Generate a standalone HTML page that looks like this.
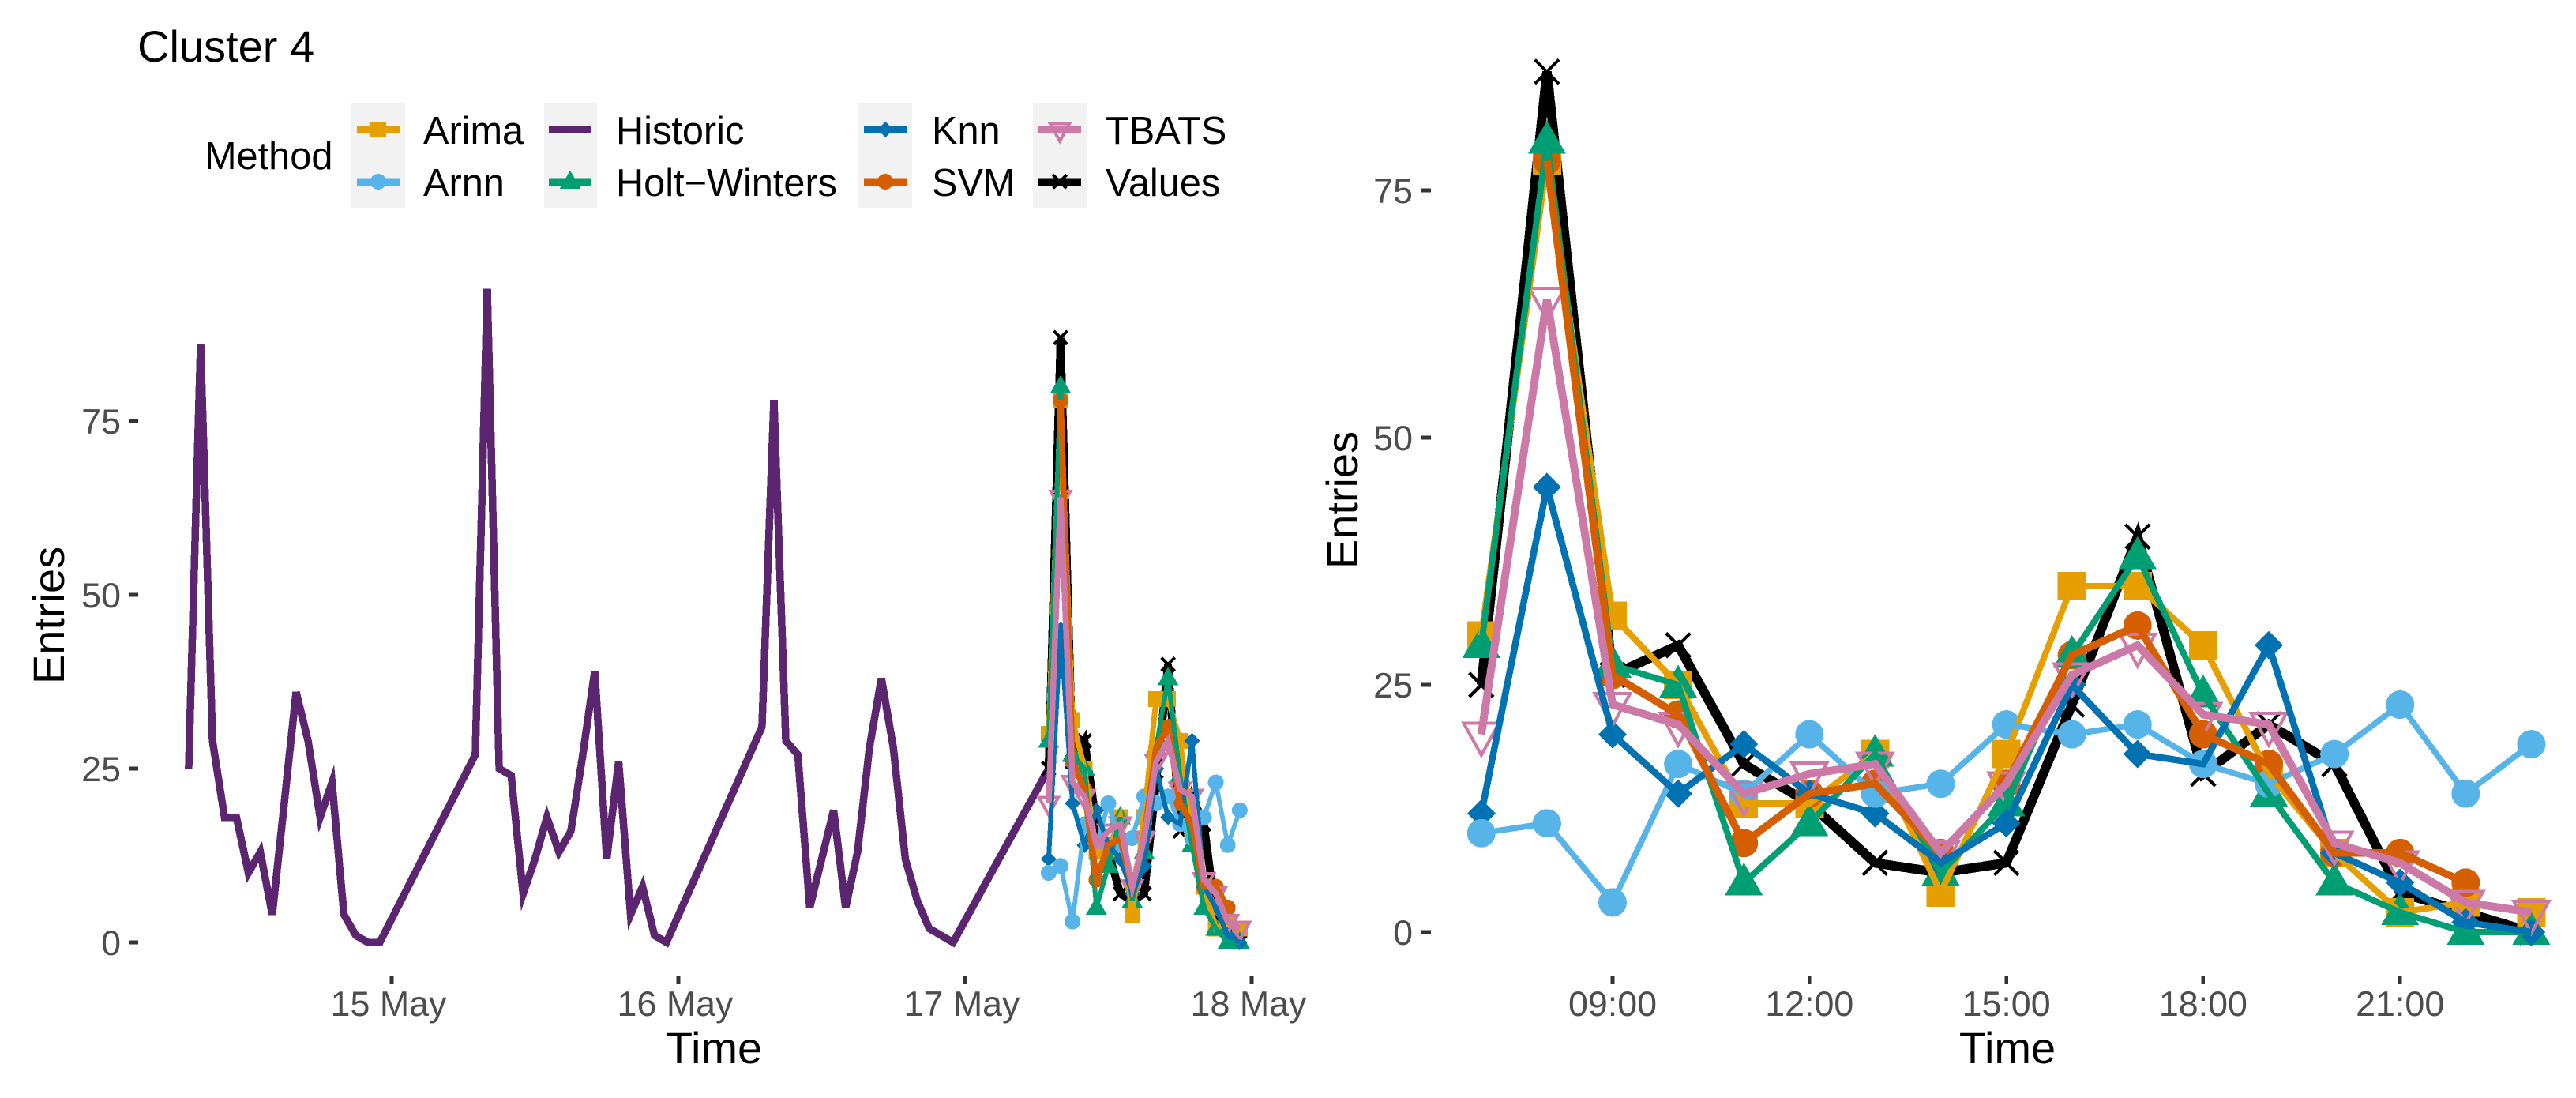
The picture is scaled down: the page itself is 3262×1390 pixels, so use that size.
<!DOCTYPE html>
<html lang="en">
<head>
<meta charset="utf-8">
<title>Cluster 4</title>
<style>
html,body{margin:0;padding:0;background:#fff;}
svg{display:block;font-family:"Liberation Sans",Arial,sans-serif;}
.axt{font-size:56px;fill:#000;}
.leg{font-size:48.7px;fill:#000;}
.tick{font-size:44.8px;fill:#4D4D4D;}
</style>
</head>
<body>
<svg id="chart" xmlns="http://www.w3.org/2000/svg" width="3262" height="1390" viewBox="0 0 3262 1390" shape-rendering="crispEdges">
  <rect x="0" y="0" width="3262" height="1390" fill="#fff"/>
  <text x="174" y="78" font-size="56">Cluster 4</text>

  <g>
    <text class="leg" x="259" y="214">Method</text>
    <rect x="445" y="131" width="68" height="132" fill="#F2F2F2"/>
    <rect x="689" y="131" width="67" height="132" fill="#F2F2F2"/>
    <rect x="1087" y="131" width="68" height="132" fill="#F2F2F2"/>
    <rect x="1308" y="131" width="68" height="132" fill="#F2F2F2"/>
    <g id="legend-keys"></g>
    <text class="leg" x="536" y="182">Arima</text>
    <text class="leg" x="536" y="248">Arnn</text>
    <text class="leg" x="780" y="182">Historic</text>
    <text class="leg" x="780" y="248">Holt−Winters</text>
    <text class="leg" x="1180" y="182">Knn</text>
    <text class="leg" x="1180" y="248">SVM</text>
    <text class="leg" x="1400" y="182">TBATS</text>
    <text class="leg" x="1400" y="248">Values</text>
  </g>

  <g id="left-panel">
    <text class="axt" text-anchor="middle" transform="translate(81 779) rotate(-90)">Entries</text>
    <text class="axt" text-anchor="middle" x="904" y="1346">Time</text>
  </g>
  <g id="right-panel">
    <text class="axt" text-anchor="middle" transform="translate(1719 633) rotate(-90)">Entries</text>
    <text class="axt" text-anchor="middle" x="2542" y="1346">Time</text>
  </g>
</svg>
<script>
// ---- data ----
const hours = [7,8,9,10,11,12,13,14,15,16,17,18,19,20,21,22,23];
const svmHours = [8,9,10,11,12,13,14,15,16,17,18,19,20,21,22];
const historicMay14 = [25,86,29,18,18,10,13,4,20,36,29,18,23,4,1,0,0];
const historicMay15 = [27,94,25,24,7,12,18,13,16,27,39,12,26,4,8,1,0];
const historicMay16 = [31,78,29,27,5,12,19,5,13,28,38,28,12,6,2,1,0];
const historicMay17 = [25];
const arimaValues = [30,78,32,25,13,13,18,4,18,35,35,29,16,8,2,3,2];
const arnnValues  = [10,11,3,17,14,20,14,15,21,20,21,17,15,18,23,14,19];
const holtValues  = [29,80,27,25,5,11,18,6,13,28,38,24,14,5,2,0,0];
const knnValues   = [12,45,20,14,19,14,12,7,11,25,18,17,29,8,5,1,0];
const svmValues   = [78,26,22,9,14,15,8,15,28,31,20,17,8,8,5];
const tbatsValues = [20,64,23,21,14,16,17,8,15,26,29,22,21,9,7,3,2];
const actualValues = [25,87,26,29,17,13,7,6,7,23,40,16,21,17,4,2,0];
const yTickValues = [0,25,50,75];
const leftTickDays = [1,2,3,4];
const leftTickLabels = ['15 May','16 May','17 May','18 May'];
const rightTickHours = [9,12,15,18,21];
const rightTickLabels = ['09:00','12:00','15:00','18:00','21:00'];

// ---- helpers ----
const NS = 'http://www.w3.org/2000/svg';
const colors = {arima:'#E69F00',arnn:'#56B4E9',historic:'#5B2570',holt:'#009E73',knn:'#0072B2',svm:'#D55E00',tbats:'#CC79A7',values:'#000000'};

function make(tag, parent, attrs){
  const el = document.createElementNS(NS, tag);
  for (const k in attrs) el.setAttribute(k, attrs[k]);
  parent.appendChild(el);
  return el;
}

// axis functions
const leftX = t => 496 + (t - 24) * 15.125;     // t = hours since 14 May 00:00
const leftY = v => 1193 - 8.8 * v;
const rightX = h => 2042 + (h - 9) * 83.1;
const rightY = v => 1180 - 12.52 * v;

function drawLine(parent, name, pts, color, width){
  const el = make('polyline', parent, {
    points: pts.map(p => p[0].toFixed(1) + ',' + p[1].toFixed(1)).join(' '),
    fill:'none', stroke:color, 'stroke-width':width,
    'stroke-linejoin':'miter', 'stroke-miterlimit':5, 'stroke-linecap':'butt'
  });
  
  
  return el;
}

function drawMarker(parent, name, kind, x, y, r, color){
  let el;
  if (kind === 'square') {
    el = make('rect', parent, {x:x-r, y:y-r, width:2*r, height:2*r, fill:color});
  } else if (kind === 'circle') {
    el = make('circle', parent, {cx:x, cy:y, r:r, fill:color});
  } else if (kind === 'diamond') {
    el = make('polygon', parent, {points:[x,y-r,x+r,y,x,y+r,x-r,y].join(','), fill:color});
  } else if (kind === 'triangle') {
    const R = r * 1.54;
    el = make('polygon', parent, {points:[x,y-R*0.92,x+R*0.866,y+R*0.58,x-R*0.866,y+R*0.58].join(','), fill:color});
  } else if (kind === 'itriangle') {
    const R = r * 1.54;
    el = make('polygon', parent, {points:[x,y+R*0.95,x+R*0.8,y-R*0.5,x-R*0.8,y-R*0.5].join(','), fill:'none', stroke:color, 'stroke-width':4, 'stroke-linejoin':'miter'});
  } else {
    const d = r * 0.85;
    el = make('path', parent, {d:'M'+(x-d)+' '+(y-d)+'L'+(x+d)+' '+(y+d)+'M'+(x-d)+' '+(y+d)+'L'+(x+d)+' '+(y-d), fill:'none', stroke:color, 'stroke-width':4});
  }
  
  
  return el;
}

const seriesInfo = {
  values:{data:actualValues, times:hours,    kind:'cross',     label:'values'},
  arima: {data:arimaValues,  times:hours,    kind:'square',    label:'arima'},
  arnn:  {data:arnnValues,   times:hours,    kind:'circle',    label:'arnn'},
  holt:  {data:holtValues,   times:hours,    kind:'triangle',  label:'holt-winters'},
  knn:   {data:knnValues,    times:hours,    kind:'diamond',   label:'knn'},
  svm:   {data:svmValues,    times:svmHours, kind:'circle',    label:'svm'},
  tbats: {data:tbatsValues,  times:hours,    kind:'itriangle', label:'tbats'}
};
const markerOrder = ['arima','svm','holt','knn','arnn','tbats'];
const lineOrder = ['arima','arnn','holt','knn','svm','tbats'];

function drawForecast(parent, prefix, xf, yf, r, widths){
  const pts = key => seriesInfo[key].data.map((v,i) => [xf(seriesInfo[key].times[i]), yf(v)]);
  drawLine(parent, prefix + '-line-values', pts('values'), colors.values, widths.values);
  pts('values').forEach(p => drawMarker(parent, prefix + '-point-values', 'cross', p[0], p[1], r, colors.values));
  markerOrder.forEach(key => {
    pts(key).forEach(p => drawMarker(parent, prefix + '-point-' + seriesInfo[key].label, seriesInfo[key].kind, p[0], p[1], r, colors[key]));
  });
  lineOrder.forEach(key => {
    drawLine(parent, prefix + '-line-' + seriesInfo[key].label, pts(key), colors[key], widths[key]);
  });
}

function drawYAxis(parent, prefix, yf, tickX1, tickX2, labelX){
  yTickValues.forEach(v => {
    const y = yf(v);
    const m = make('line', parent, {x1:tickX1, x2:tickX2, y1:y, y2:y, stroke:'#333', 'stroke-width':4.6});
    
    
    const t = make('text', parent, {x:labelX, y:y+16, 'text-anchor':'end', class:'tick'});
    
    
    t.textContent = String(v);
  });
}

function drawXTick(parent, prefix, x, text, labelOffset){
  const m = make('line', parent, {x1:x, x2:x, y1:1236, y2:1246, stroke:'#333', 'stroke-width':4.6});
  
  
  const t = make('text', parent, {x:x+labelOffset, y:1286, 'text-anchor':'middle', class:'tick'});
  
  
  t.textContent = text;
}

// ---- left panel ----
const left = document.getElementById('left-panel');
drawYAxis(left, 'left', leftY, 163, 175, 153);
leftTickDays.forEach((d,i) => drawXTick(left, 'left', leftX(24*d), leftTickLabels[i], -4));
const historicPts = [];
[historicMay14, historicMay15, historicMay16, historicMay17].forEach((day,d) => {
  day.forEach((v,i) => historicPts.push([leftX(24*d + hours[i]), leftY(v)]));
});
drawLine(left, 'left-line-historic', historicPts, colors.historic, 9.5);
drawForecast(left, 'left', h => leftX(72 + h), leftY, 10,
  {values:10, arima:7, arnn:5.7, holt:6, knn:6, svm:8, tbats:7.5});

// ---- right panel ----
const right = document.getElementById('right-panel');
drawYAxis(right, 'right', rightY, 1799, 1812, 1789);
rightTickHours.forEach((h,i) => drawXTick(right, 'right', rightX(h), rightTickLabels[i], 0));
drawForecast(right, 'right', rightX, rightY, 18,
  {values:12, arima:8, arnn:7.5, holt:8, knn:8.5, svm:9.5, tbats:10});

// ---- legend keys ----
const legendKeys = document.getElementById('legend-keys');
const legendEntries = [
  ['arima','square',479,164],['arnn','circle',479,230],
  ['historic',null,722,164],['holt','triangle',722,230],
  ['knn','diamond',1121,164],['svm','circle',1121,230],
  ['tbats','itriangle',1342,164],['values','cross',1342,230]
];
legendEntries.forEach(e => {
  const key = e[0], cx = e[2], cy = e[3];
  drawLine(legendKeys, 'legend-key-line-' + key, [[cx-27,cy],[cx+27,cy]], colors[key], 9.5);
  if (e[1]) drawMarker(legendKeys, 'legend-key-marker-' + key, e[1], cx, cy, 10, colors[key]);
});
</script>
</body>
</html>
